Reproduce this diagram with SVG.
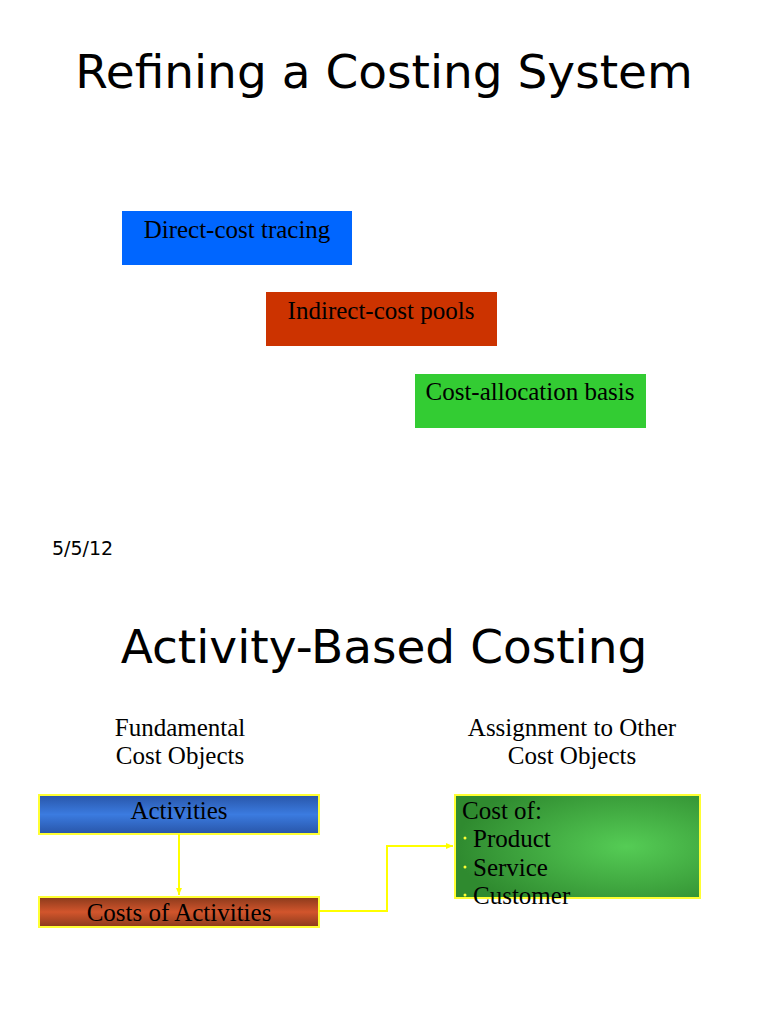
<svg xmlns="http://www.w3.org/2000/svg" width="768" height="1024" viewBox="0 0 768 1024">
<style>
.title{font-family:"DejaVu Sans",sans-serif;font-size:47px;fill:#000;text-anchor:middle}
.lbl{font-family:"Liberation Serif",serif;font-size:25px;fill:#000}
.c{text-anchor:middle}
.conn{fill:none;stroke:#FFFF00;stroke-width:2}
.abox{stroke:#FFFF33;stroke-width:2}
</style>
<defs>
<linearGradient id="gBlue" x1="0" y1="0" x2="0" y2="1">
<stop offset="0" stop-color="#2855a8"/><stop offset="0.5" stop-color="#3b7be0"/><stop offset="1" stop-color="#2855a8"/>
</linearGradient>
<linearGradient id="gRed" x1="0" y1="0" x2="0" y2="1">
<stop offset="0" stop-color="#8a3a1c"/><stop offset="0.5" stop-color="#d2552c"/><stop offset="1" stop-color="#8a3a1c"/>
</linearGradient>
<radialGradient id="gGreen" cx="0.7" cy="0.5" r="0.7">
<stop offset="0" stop-color="#55cc55"/><stop offset="1" stop-color="#2f8a2f"/>
</radialGradient>
<marker id="arr" markerWidth="8" markerHeight="8" refX="7" refY="4" orient="auto" markerUnits="userSpaceOnUse">
<path d="M0,1 L7,4 L0,7 z" fill="#FFFF00"/>
</marker>
</defs>
<rect width="768" height="1024" fill="#fff"/>
<text class="title" x="384" y="88">Refining a Costing System</text>
<g id="direct"><rect x="122" y="211" width="230" height="54" fill="#0066FF"/><text class="lbl c" x="237" y="238">Direct-cost tracing</text></g>
<g id="indirect"><rect x="266" y="292" width="231" height="54" fill="#CC3300"/><text class="lbl c" x="381" y="319">Indirect-cost pools</text></g>
<g id="allocation"><rect x="415" y="374" width="231" height="54" fill="#33CC33"/><text class="lbl c" x="530" y="400">Cost-allocation basis</text></g>
<text x="52" y="555" style="font-family:'DejaVu Sans',sans-serif;font-size:19px">5/5/12</text>
<text class="title" x="384" y="663">Activity-Based Costing</text>
<g id="hdr1"><text class="lbl c" x="180" y="736">Fundamental</text><text class="lbl c" x="180" y="764">Cost Objects</text></g>
<g id="hdr2"><text class="lbl c" x="572" y="736">Assignment to Other</text><text class="lbl c" x="572" y="764">Cost Objects</text></g>
<g id="activities"><rect class="abox" x="39" y="795" width="280" height="39" fill="url(#gBlue)"/><text class="lbl c" x="179" y="819">Activities</text></g>
<g id="costs"><rect class="abox" x="39" y="897" width="280" height="30" fill="url(#gRed)"/><text class="lbl c" x="179" y="921">Costs of Activities</text></g>
<g id="costof"><rect class="abox" x="455" y="795" width="245" height="103" fill="url(#gGreen)"/>
<text class="lbl" x="462" y="819">Cost of:</text>
<circle cx="465" cy="838" r="1.5" fill="#FFFF33"/><text class="lbl" x="473" y="847">Product</text>
<circle cx="465" cy="867" r="1.5" fill="#FFFF33"/><text class="lbl" x="473" y="876">Service</text>
<circle cx="465" cy="895" r="1.5" fill="#FFFF33"/><text class="lbl" x="473" y="904">Customer</text>
</g>
<g id="connectors">
<path class="conn" d="M179,834 L179,895" marker-end="url(#arr)"/>
<path class="conn" d="M319,911 L387,911 L387,846 L453,846" marker-end="url(#arr)"/>
</g>
</svg>
